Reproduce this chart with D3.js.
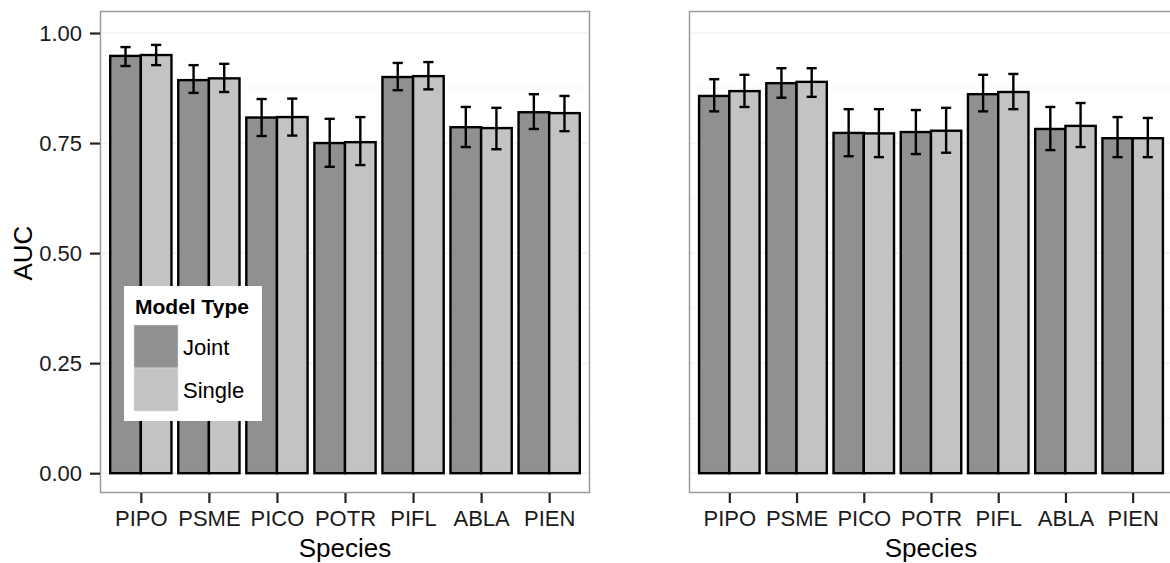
<!DOCTYPE html>
<html>
<head>
<meta charset="utf-8">
<script src="https://cdn.jsdelivr.net/npm/d3@7"></script>
<style>
    body { margin: 0; background: #fff; }
    svg { display: block; font-family: "Liberation Sans", Arial, sans-serif; }
</style>
</head>
<body>
<div id="chart"></div>
<script>
// Categories and series
var species = ["PIPO", "PSME", "PICO", "POTR", "PIFL", "ABLA", "PIEN"];
var modelTypes = ["Joint", "Single"];
var yTicks = [0, 0.25, 0.5, 0.75, 1.0];

// Left panel
var leftJoint = [0.948, 0.893, 0.808, 0.750, 0.900, 0.786, 0.820];
var leftJointLo = [0.925, 0.864, 0.766, 0.696, 0.870, 0.741, 0.782];
var leftJointHi = [0.968, 0.927, 0.850, 0.805, 0.932, 0.832, 0.861];
var leftSingle = [0.950, 0.897, 0.809, 0.752, 0.902, 0.784, 0.818];
var leftSingleLo = [0.927, 0.866, 0.767, 0.700, 0.872, 0.736, 0.777];
var leftSingleHi = [0.973, 0.930, 0.851, 0.809, 0.934, 0.830, 0.857];

// Right panel
var rightJoint = [0.857, 0.886, 0.773, 0.775, 0.861, 0.782, 0.761];
var rightJointLo = [0.822, 0.853, 0.720, 0.725, 0.822, 0.734, 0.718];
var rightJointHi = [0.895, 0.920, 0.827, 0.825, 0.905, 0.832, 0.809];
var rightSingle = [0.868, 0.889, 0.772, 0.778, 0.866, 0.789, 0.761];
var rightSingleLo = [0.832, 0.855, 0.718, 0.728, 0.827, 0.741, 0.718];
var rightSingleHi = [0.905, 0.920, 0.827, 0.830, 0.907, 0.841, 0.807];

var fills = {Joint: "#909090", Single: "#c3c3c3"};

var svg = d3.select("#chart")
    .append("svg")
    .attr("width", 1170)
    .attr("height", 563);

var panelTop = 11, panelBottom = 493;

var y = d3.scaleLinear()
    .domain([-0.045, 1.05])
    .range([panelBottom, panelTop]);

function buildRows(joint, jLo, jHi, single, sLo, sHi) {
    var rows = [];
    species.forEach(function (s, i) {
        rows.push({species: s, type: "Joint", value: joint[i], lo: jLo[i], hi: jHi[i]});
        rows.push({species: s, type: "Single", value: single[i], lo: sLo[i], hi: sHi[i]});
    });
    return rows;
}

function drawPanel(left, right, rows, showY) {
    var x = d3.scalePoint()
        .domain(species)
        .range([left, right])
        .padding(0.6);
    var step = x.step();
    var barW = step * 0.45;

    var g = svg.append("g");

    // grid lines (minor, then major)
    var minor = [0.125, 0.375, 0.625, 0.875];
    g.selectAll(".minor")
        .data(minor)
        .enter()
        .append("line")
        .attr("x1", left).attr("x2", right)
        .attr("y1", function (d) { return y(d); })
        .attr("y2", function (d) { return y(d); })
        .attr("stroke", "#f5f5f5")
        .attr("stroke-width", 1);

    g.selectAll(".major")
        .data(yTicks)
        .enter()
        .append("line")
        .attr("x1", left).attr("x2", right)
        .attr("y1", function (d) { return y(d); })
        .attr("y2", function (d) { return y(d); })
        .attr("stroke", "#ececec")
        .attr("stroke-width", 1);

    // bars
    g.selectAll(".bar")
        .data(rows)
        .enter()
        .append("rect")
        .attr("x", function (d) { return x(d.species) + (d.type === "Joint" ? -barW : 0); })
        .attr("y", function (d) { return y(d.value); })
        .attr("width", barW)
        .attr("height", function (d) { return y(0) - y(d.value); })
        .attr("fill", function (d) { return fills[d.type]; })
        .attr("stroke", "#000")
        .attr("stroke-width", 2.4);

    // error bars
    var capW = step * 0.075;
    var eb = g.selectAll(".err")
        .data(rows)
        .enter()
        .append("g")
        .attr("transform", function (d) {
            return "translate(" + (x(d.species) + (d.type === "Joint" ? -barW / 2 : barW / 2)) + ",0)";
        })
        .attr("stroke", "#000")
        .attr("stroke-width", 2.4);
    eb.append("line")
        .attr("x1", 0).attr("x2", 0)
        .attr("y1", function (d) { return y(d.lo); })
        .attr("y2", function (d) { return y(d.hi); });
    eb.append("line")
        .attr("x1", -capW).attr("x2", capW)
        .attr("y1", function (d) { return y(d.lo); })
        .attr("y2", function (d) { return y(d.lo); });
    eb.append("line")
        .attr("x1", -capW).attr("x2", capW)
        .attr("y1", function (d) { return y(d.hi); })
        .attr("y2", function (d) { return y(d.hi); });

    // panel border
    g.append("rect")
        .attr("x", left + 0.5)
        .attr("y", panelTop + 0.5)
        .attr("width", right - left - 1)
        .attr("height", panelBottom - panelTop - 1)
        .attr("fill", "none")
        .attr("stroke", "#9a9a9a")
        .attr("stroke-width", 1.5);

    // x axis
    var xAxis = g.append("g")
        .attr("transform", "translate(0," + panelBottom + ")")
        .call(d3.axisBottom(x).tickSize(10).tickPadding(7));
    xAxis.select(".domain").remove();
    xAxis.selectAll(".tick line").attr("stroke", "#222").attr("stroke-width", 2.2);
    xAxis.selectAll(".tick text")
        .attr("fill", "#1a1a1a")
        .style("font-size", "22px");

    g.append("text")
        .attr("x", (left + right) / 2)
        .attr("y", 557)
        .attr("text-anchor", "middle")
        .style("font-size", "26px")
        .attr("fill", "#000")
        .text("Species");

    if (showY) {
        var yAxis = g.append("g")
            .attr("transform", "translate(" + left + ",0)")
            .call(d3.axisLeft(y)
                .tickValues(yTicks)
                .tickSize(10)
                .tickPadding(8)
                .tickFormat(d3.format(".2f")));
        yAxis.select(".domain").remove();
        yAxis.selectAll(".tick line").attr("stroke", "#222").attr("stroke-width", 2.2);
        yAxis.selectAll(".tick text")
            .attr("fill", "#1a1a1a")
            .style("font-size", "22px");

        g.append("text")
            .attr("transform", "translate(32," + y(0.5) + ") rotate(-90)")
            .attr("text-anchor", "middle")
            .style("font-size", "26px")
            .attr("fill", "#000")
            .text("AUC");
    }
    return g;
}

drawPanel(100, 590, buildRows(leftJoint, leftJointLo, leftJointHi, leftSingle, leftSingleLo, leftSingleHi), true);
drawPanel(689, 1173, buildRows(rightJoint, rightJointLo, rightJointHi, rightSingle, rightSingleLo, rightSingleHi), false);

// Legend inside the left panel
var legend = svg.append("g");
legend.append("rect")
    .attr("x", 124).attr("y", 286)
    .attr("width", 138).attr("height", 135)
    .attr("fill", "#fff");
legend.append("text")
    .attr("x", 135).attr("y", 314)
    .style("font-size", "21px")
    .style("font-weight", "bold")
    .text("Model Type");
modelTypes.forEach(function (t, i) {
    legend.append("rect")
        .attr("x", 134).attr("y", 325 + i * 43)
        .attr("width", 44).attr("height", 43)
        .attr("fill", fills[t])
        .attr("stroke", "#e0e0e0")
        .attr("stroke-width", 0.5);
    legend.append("text")
        .attr("x", 183).attr("y", 355 + i * 43)
        .style("font-size", "22px")
        .text(t);
});
</script>
</body>
</html>
